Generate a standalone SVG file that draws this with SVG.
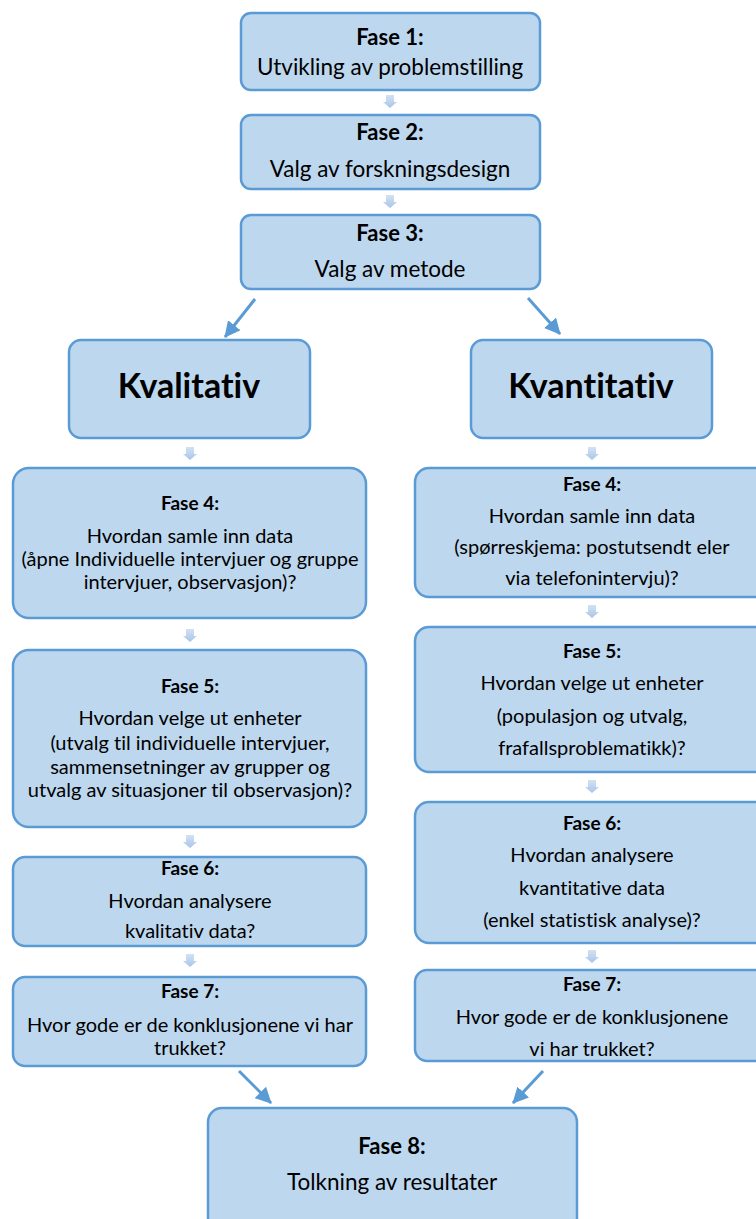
<svg xmlns="http://www.w3.org/2000/svg" width="756" height="1219" viewBox="0 0 756 1219">
<defs>
<linearGradient id="ag" x1="0" y1="0" x2="0" y2="1">
<stop offset="0" stop-color="#d3e2f4"/>
<stop offset="1" stop-color="#a9c5e8"/>
</linearGradient>
<marker id="ah" markerUnits="userSpaceOnUse" markerWidth="16" markerHeight="16" viewBox="0 0 16 16" refX="15" refY="8" orient="auto">
<path d="M0,0 L16,8 L0,16 Z" fill="#5b9bd5"/>
</marker>
<path id="sa" d="M-4,0 H4 V7 H7 L0,13 L-7,7 H-4 Z"/>
</defs>
<style>
.box{fill:#bdd7ee;stroke:#5b9bd5;stroke-width:2.5}
text{font-family:Lato,"Liberation Sans",sans-serif;fill:#000;text-anchor:middle;font-variant-ligatures:none}
.t1{font-size:22px;font-weight:bold}
.b1{font-size:22.5px}
.big{font-size:34px;font-weight:bold}
.t2{font-size:19px;font-weight:bold}
.b2{font-size:20px}
.conn line{stroke:#5b9bd5;stroke-width:3;marker-end:url(#ah)}
.conn use{fill:url(#ag)}
</style>

<g id="connectors" class="conn">
<use href="#sa" x="390" y="95"/>
<use href="#sa" x="390" y="195"/>
<line x1="255" y1="299" x2="225" y2="337"/>
<line x1="528" y1="298" x2="560" y2="334"/>
<use href="#sa" x="190" y="447"/>
<use href="#sa" x="592" y="447"/>
<use href="#sa" x="190" y="629"/>
<use href="#sa" x="190" y="835"/>
<use href="#sa" x="190" y="954"/>
<use href="#sa" x="592" y="605"/>
<use href="#sa" x="592" y="780"/>
<use href="#sa" x="592" y="950"/>
<line x1="239" y1="1071" x2="271" y2="1103"/>
<line x1="543" y1="1071" x2="513" y2="1103"/>
</g>

<g id="fase1">
<rect class="box" x="241" y="13" width="299" height="77" rx="10"/>
<text class="t1" x="390" y="45">Fase 1:</text>
<text class="b1" x="390" y="75">Utvikling av problemstilling</text>
</g>
<g id="fase2">
<rect class="box" x="241" y="115" width="299" height="74" rx="10"/>
<text class="t1" x="390" y="140">Fase 2:</text>
<text class="b1" x="390" y="177">Valg av forskningsdesign</text>
</g>
<g id="fase3">
<rect class="box" x="241" y="215" width="299" height="74" rx="10"/>
<text class="t1" x="390" y="241">Fase 3:</text>
<text class="b1" x="390" y="277">Valg av metode</text>
</g>

<g id="kvalitativ">
<rect class="box" x="69" y="340" width="241" height="98" rx="12"/>
<text class="big" x="189" y="398">Kvalitativ</text>
</g>
<g id="kvantitativ">
<rect class="box" x="471" y="340" width="241" height="98" rx="12"/>
<text class="big" x="591" y="398">Kvantitativ</text>
</g>

<g id="kl-fase4">
<rect class="box" x="13" y="468" width="353" height="150" rx="16"/>
<text class="t2" x="190" y="510">Fase 4:</text>
<text class="b2" x="190" y="543">Hvordan samle inn data</text>
<text class="b2" x="190" y="566">(åpne Individuelle intervjuer og gruppe</text>
<text class="b2" x="190" y="589">intervjuer, observasjon)?</text>
</g>
<g id="kl-fase5">
<rect class="box" x="13" y="650" width="353" height="177" rx="16"/>
<text class="t2" x="190" y="693">Fase 5:</text>
<text class="b2" x="190" y="725">Hvordan velge ut enheter</text>
<text class="b2" x="190" y="750">(utvalg til individuelle intervjuer,</text>
<text class="b2" x="190" y="774">sammensetninger av grupper og</text>
<text class="b2" x="190" y="797">utvalg av situasjoner til observasjon)?</text>
</g>
<g id="kl-fase6">
<rect class="box" x="13" y="857" width="353" height="89" rx="12"/>
<text class="t2" x="190" y="875">Fase 6:</text>
<text class="b2" x="190" y="908">Hvordan analysere</text>
<text class="b2" x="190" y="938">kvalitativ data?</text>
</g>
<g id="kl-fase7">
<rect class="box" x="13" y="977" width="353" height="89" rx="12"/>
<text class="t2" x="190" y="998">Fase 7:</text>
<text class="b2" x="190" y="1032">Hvor gode er de konklusjonene vi har</text>
<text class="b2" x="190" y="1055">trukket?</text>
</g>

<g id="kn-fase4">
<rect class="box" x="415" y="468" width="360" height="129" rx="14"/>
<text class="t2" x="592" y="491">Fase 4:</text>
<text class="b2" x="592" y="523">Hvordan samle inn data</text>
<text class="b2" x="592" y="554">(spørreskjema: postutsendt eler</text>
<text class="b2" x="592" y="585">via telefonintervju)?</text>
</g>
<g id="kn-fase5">
<rect class="box" x="415" y="627" width="360" height="145" rx="14"/>
<text class="t2" x="592" y="658">Fase 5:</text>
<text class="b2" x="592" y="690">Hvordan velge ut enheter</text>
<text class="b2" x="592" y="723">(populasjon og utvalg,</text>
<text class="b2" x="592" y="755">frafallsproblematikk)?</text>
</g>
<g id="kn-fase6">
<rect class="box" x="415" y="802" width="360" height="141" rx="14"/>
<text class="t2" x="592" y="830">Fase 6:</text>
<text class="b2" x="592" y="862">Hvordan analysere</text>
<text class="b2" x="592" y="895">kvantitative data</text>
<text class="b2" x="592" y="927">(enkel statistisk analyse)?</text>
</g>
<g id="kn-fase7">
<rect class="box" x="415" y="970" width="360" height="91" rx="12"/>
<text class="t2" x="592" y="991">Fase 7:</text>
<text class="b2" x="592" y="1024">Hvor gode er de konklusjonene</text>
<text class="b2" x="592" y="1056">vi har trukket?</text>
</g>

<g id="fase8">
<rect class="box" x="208" y="1108" width="369" height="130" rx="14"/>
<text class="t1" x="392" y="1154">Fase 8:</text>
<text class="b1" x="392" y="1190">Tolkning av resultater</text>
</g>
</svg>
